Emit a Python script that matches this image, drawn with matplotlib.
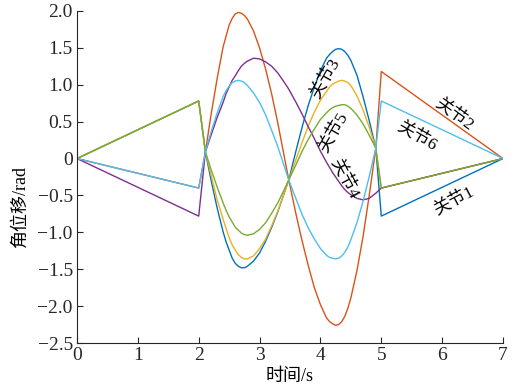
import matplotlib
matplotlib.use("Agg")
import matplotlib.pyplot as plt

# time samples (s)
t = [0, 2.0, 2.11, 2.2, 2.3, 2.4, 2.45, 2.5, 2.55, 2.6, 2.65, 2.7, 2.75, 2.8, 2.9, 3.0, 3.1,
     3.2, 3.3, 3.4, 3.48, 3.6, 3.7, 3.8, 3.9, 4.0, 4.1, 4.15, 4.2, 4.25, 4.3, 4.35, 4.4,
     4.45, 4.5, 4.6, 4.7, 4.8, 4.91, 5.0, 7]

# joint angles (rad)
q1 = [0, 0.78, 0.09, -0.28, -0.66, -0.99, -1.13, -1.24, -1.35, -1.42, -1.46, -1.48, -1.48,
      -1.46, -1.39, -1.28, -1.12, -0.93, -0.72, -0.48, -0.29, 0.11, 0.43, 0.72, 0.97, 1.19,
      1.36, 1.41, 1.45, 1.48, 1.49, 1.48, 1.45, 1.40, 1.33, 1.13, 0.84, 0.52, 0.14, -0.78, 0]
q2 = [0, -0.40, 0.09, 0.58, 1.07, 1.51, 1.66, 1.81, 1.90, 1.96, 1.98, 1.97, 1.94, 1.89, 1.73,
      1.50, 1.21, 0.87, 0.48, 0.05, -0.29, -0.76, -1.12, -1.45, -1.75, -1.98, -2.16, -2.21,
      -2.24, -2.26, -2.25, -2.21, -2.14, -2.03, -1.89, -1.52, -1.06, -0.51, 0.14, 1.18, 0]
q3 = [0, 0.78, 0.09, -0.21, -0.55, -0.82, -0.95, -1.07, -1.17, -1.24, -1.30, -1.34, -1.36,
      -1.36, -1.32, -1.22, -1.09, -0.91, -0.71, -0.48, -0.29, -0.01, 0.22, 0.44, 0.63, 0.79,
      0.91, 0.97, 1.01, 1.03, 1.05, 1.06, 1.05, 1.03, 0.99, 0.85, 0.66, 0.43, 0.14, -0.40, 0]
q4 = [0, -0.78, 0.09, 0.31, 0.55, 0.76, 0.88, 0.97, 1.06, 1.12, 1.19, 1.25, 1.29, 1.32, 1.36,
      1.35, 1.31, 1.25, 1.16, 1.04, 0.94, 0.76, 0.60, 0.43, 0.27, 0.10, -0.05, -0.12, -0.19,
      -0.25, -0.31, -0.37, -0.42, -0.46, -0.49, -0.54, -0.56, -0.54, -0.47, -0.40, 0]
q5 = [0, 0.78, 0.09, -0.14, -0.38, -0.60, -0.70, -0.79, -0.86, -0.93, -0.97, -1.01, -1.03,
      -1.04, -1.02, -0.96, -0.87, -0.74, -0.60, -0.43, -0.29, -0.08, 0.10, 0.26, 0.40, 0.53,
      0.62, 0.66, 0.69, 0.71, 0.72, 0.73, 0.73, 0.71, 0.68, 0.59, 0.47, 0.32, 0.14, -0.40, 0]
q6 = [0, -0.40, 0.09, 0.35, 0.61, 0.84, 0.92, 0.98, 1.03, 1.05, 1.06, 1.05, 1.03, 0.99, 0.89,
      0.76, 0.59, 0.38, 0.16, -0.09, -0.29, -0.55, -0.76, -0.94, -1.09, -1.22, -1.31, -1.34,
      -1.35, -1.36, -1.35, -1.32, -1.27, -1.20, -1.10, -0.87, -0.58, -0.25, 0.14, 0.78, 0]

colors = ["#0072BD", "#D95319", "#EDB120", "#7E2F8E", "#77AC30", "#4DBEEE"]

plt.rcParams["font.family"] = ["Liberation Serif", "Noto Sans CJK SC"]
plt.rcParams["axes.unicode_minus"] = True

fig = plt.figure(figsize=(5.22, 3.92), dpi=100)
ax = fig.add_axes([0.1475, 0.125, 0.8161, 0.847])

for q, c in zip([q1, q2, q3, q4, q5, q6], colors):
    ax.plot(t, q, color=c, lw=1.0)

ax.set_xlim(0, 7)
ax.set_ylim(-2.5, 2.0)
ax.set_xticks(range(0, 8))
yt = [2.0, 1.5, 1.0, 0.5, 0, -0.5, -1.0, -1.5, -2.0, -2.5]
ax.set_yticks(yt)
ax.set_yticklabels(["0" if v == 0 else f"{v:.1f}".replace("-", "\u2212") for v in yt])
ax.tick_params(direction="in", length=4, width=0.8, labelsize=14, colors="#262626", pad=3)
for s in ["top", "right"]:
    ax.spines[s].set_visible(False)
for s in ["left", "bottom"]:
    ax.spines[s].set_color("#262626")
    ax.spines[s].set_linewidth(0.8)

ax.set_xlabel("时间/s", fontsize=13, labelpad=3)
ax.set_ylabel("角位移/rad", fontsize=13)
ax.yaxis.set_label_coords(-0.112, 0.41)

# curve labels
labels = [("关节3", 4.07, 1.09, 60), ("关节5", 4.2, 0.35, 60), ("关节4", 4.4, -0.27, -62),
          ("关节2", 6.2, 0.6, -36), ("关节6", 5.58, 0.31, -30), ("关节1", 6.18, -0.57, 28)]
for s, x, y, r in labels:
    ax.text(x, y, s, rotation=r, fontsize=12.5, ha="center", va="center",
            rotation_mode="anchor")

fig.savefig("out.png", dpi=100)
